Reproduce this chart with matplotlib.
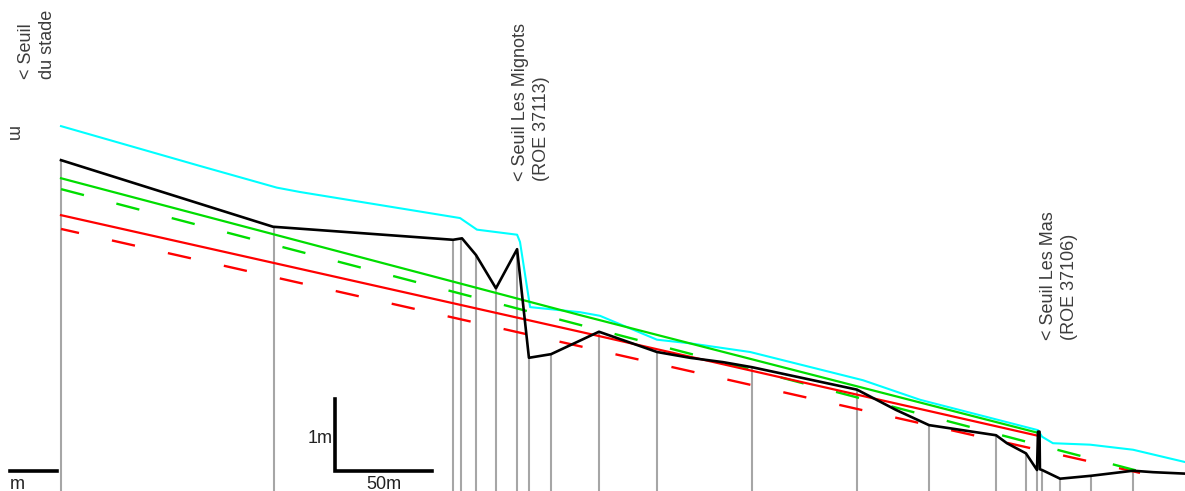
import matplotlib.pyplot as plt
import numpy as np
from matplotlib.patches import Rectangle
from matplotlib.transforms import IdentityTransform

plt.rcParams['font.family'] = ['Liberation Sans', 'DejaVu Sans']
plt.rcParams['lines.scale_dashes'] = False

# Long profile, chainage (m) and relative elevation (m)
bed_x = [0, 109.3, 202.1, 206.7, 213.9, 224.2, 235.1, 241.2, 252.6, 277.3, 307.2,
         324.2, 341.2, 356.2, 410.3, 430.4, 447.4, 482.0, 487.6, 497.4, 503.1,
         503.6, 504.4, 504.6, 505.7, 515.0, 530.9, 552.6, 562.9, 579.4]
bed_z = [4.57, 3.65, 3.47, 3.49, 3.26, 2.80, 3.34, 1.84, 1.89, 2.20, 1.92,
         1.84, 1.78, 1.71, 1.40, 1.12, 0.91, 0.77, 0.66, 0.52, 0.29,
         0.82, 0.82, 0.30, 0.29, 0.17, 0.21, 0.28, 0.26, 0.24]

sections_x = [0, 109.8, 202.1, 206.2, 213.9, 224.2, 234.9, 241.2, 252.6, 277.3,
              307.2, 356.2, 410.3, 447.4, 482.0, 497.4, 503.1, 505.7, 515.0,
              530.9, 552.6]

flood_x = [0, 71.6, 111.3, 123.2, 205.7, 214.4, 235.1, 236.6, 241.8, 267.5, 277.8,
           307.2, 324.2, 355.2, 413.4, 442.8, 503.6, 505.7, 511.3, 530.4, 552.6, 579.4]
flood_z = [5.04, 4.49, 4.19, 4.13, 3.77, 3.61, 3.54, 3.44, 2.54, 2.47, 2.42,
           2.09, 2.04, 1.92, 1.53, 1.26, 0.84, 0.75, 0.66, 0.64, 0.57, 0.40]

green_x = [0, 267.5, 504.1]
green_z = [4.32, 2.43, 0.80]
red_x = [0, 267.5, 504.1]
red_z = [3.81, 2.20, 0.76]

green_dash_x = [0, 556.2]
green_dash_z = [4.17, 0.27]
red_dash_x = [0, 556.2]
red_dash_z = [3.62, 0.25]

# scale bar: 50 m horizontal, 1 m vertical
bar_x0, bar_z0 = 141.2, 0.276
bar_len_x, bar_len_z = 50, 1

fig = plt.figure(figsize=(11.85, 4.91), dpi=100)
ax = fig.add_axes([0, 0, 1, 1])
ax.set_xlim(-31.44, 579.38)
ax.set_ylim(0, 6.782)
ax.axis('off')

# cross sections
tops = np.interp(sections_x, bed_x, bed_z)
ax.vlines(sections_x, 0, tops, color='#a6a6a6', lw=1.5, zorder=1)

ax.plot(flood_x, flood_z, color='#00ffff', lw=1.5, zorder=2)
ax.plot(red_dash_x, red_dash_z, color='#ff0000', lw=1.7,
        linestyle=(3.7, (17.0, 24.3)), zorder=3)
ax.plot(green_dash_x, green_dash_z, color='#00dd00', lw=1.7,
        linestyle=(0, (17.1, 24.1)), zorder=3)
ax.plot(red_x, red_z, color='#ff0000', lw=1.6, zorder=4)
ax.plot(green_x, green_z, color='#00dd00', lw=1.6, zorder=4)
ax.plot(bed_x, bed_z, color='black', lw=1.9, zorder=5)

# scale bars
ax.plot([bar_x0, bar_x0, bar_x0 + bar_len_x],
        [bar_z0 + bar_len_z, bar_z0, bar_z0], color='black', lw=2.6,
        solid_joinstyle='miter', zorder=6)
ax.plot([-26.3, -2.1], [bar_z0, bar_z0], color='black', lw=2.6, zorder=6)
ax.text(bar_x0 - 1.3, 0.66, '1m', fontsize=13, color='#222222',
        ha='right', va='baseline')
ax.text(bar_x0 + bar_len_x / 2, 0.03, '50m', fontsize=13, color='#222222',
        ha='center', va='baseline')
ax.text(-26.3, 0.03, 'm', fontsize=13, color='#222222', ha='left', va='baseline')

# weir labels
lab = dict(fontsize=13, color='#3c3c3c', rotation=90, ha='left', va='bottom',
           linespacing=1.3)
ax.text(232.5, 4.28, '< Seuil Les Mignots\n(ROE 37113)', **lab)
ax.text(504.6, 2.09, '< Seuil Les Mas\n(ROE 37106)', **lab)
t = ax.text(-22.2, 5.69, '< Seuil\ndu stade', **lab)
t.set_clip_path(Rectangle((0, 0), 1185, 475, transform=IdentityTransform()))
ax.text(-25.0, 4.94, 'm', fontsize=13, color='#3c3c3c', rotation=270,
        ha='center', va='center')

fig.savefig('out.png', dpi=100)
